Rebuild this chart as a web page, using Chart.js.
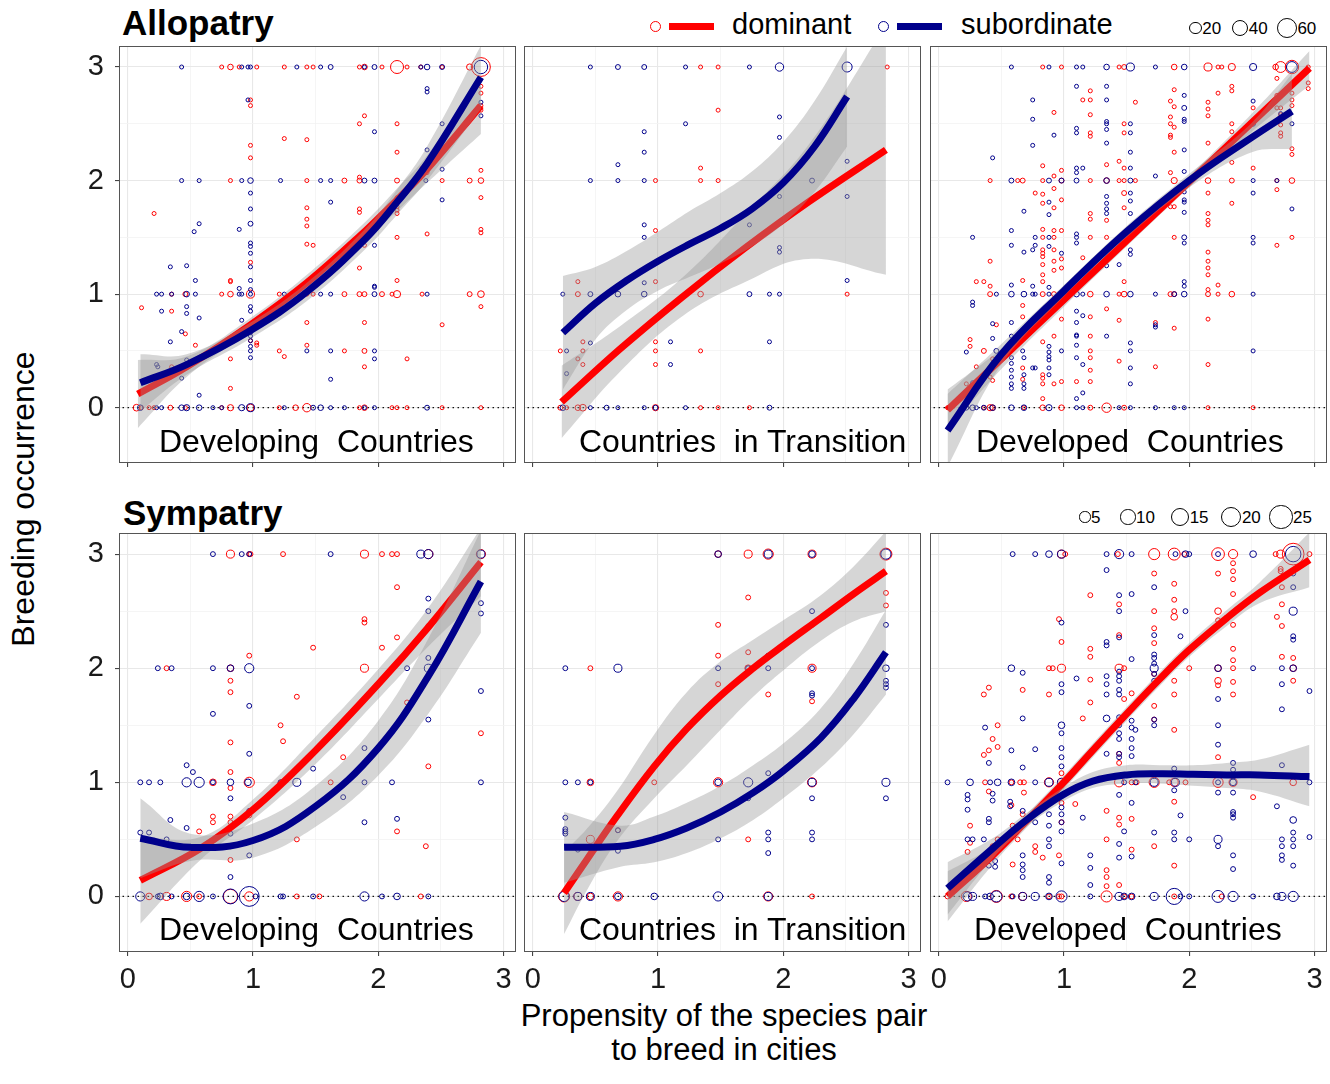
<!DOCTYPE html>
<html>
<head>
<meta charset="utf-8">
<script src="https://cdn.jsdelivr.net/npm/chart.js@4.4.0/dist/chart.umd.min.js"></script>
<style>
  body { margin: 0; width: 1330px; height: 1084px; position: relative; overflow: hidden; background: #fff;
         font-family: "Liberation Sans", Arial, sans-serif; color: #000; }
  canvas { position: absolute; }
  .t { position: absolute; white-space: pre; line-height: 1; }
  .ring { position: absolute; box-sizing: border-box; border-radius: 50%; border: 1px solid #000; }
  .bar { position: absolute; height: 7px; }
</style>
</head>
<body>

<div class="t" style="left:122px;top:5px;font-size:35px;font-weight:bold">Allopatry</div>
<div class="t" style="left:123px;top:495px;font-size:35px;font-weight:bold">Sympatry</div>

<div class="ring" style="left:650px;top:21px;width:11px;height:11px;border-color:#ff0000"></div>
<div class="bar" style="left:669px;top:23px;width:45px;background:#ff0000"></div>
<div class="t" style="left:732px;top:10px;font-size:29px">dominant</div>
<div class="ring" style="left:878px;top:21px;width:11px;height:11px;border-color:#00008b"></div>
<div class="bar" style="left:897px;top:23px;width:45px;background:#00008b"></div>
<div class="t" style="left:961px;top:10px;font-size:29px">subordinate</div>

<div id="sizeTop"></div>
<div id="sizeBot"></div>

<div class="t" style="left:22.6px;top:499px;font-size:32px;transform:translate(-50%,-50%) rotate(-90deg)">Breeding occurrence</div>
<div class="t" style="left:724px;top:1000px;font-size:31px;transform:translateX(-50%)">Propensity of the species pair</div>
<div class="t" style="left:724px;top:1034px;font-size:31px;transform:translateX(-50%)">to breed in cities</div>

<script>
// ---- axis ticks ----
const tickVals = [0, 0.5, 1, 1.5, 2, 2.5, 3];
const tickLabels = ['0', '', '1', '', '2', '', '3'];

// ---- size legends (number of cases) ----
const sizeKeysTop = [20, 40, 60];
const sizeKeysBot = [5, 10, 15, 20, 25];

// ---- panel labels ----
const regions = ['Developing  Countries', 'Countries  in Transition', 'Developed  Countries'];

// ---- points: [propensity, occurrence, n] ----
// Allopatry, developing countries
const aDevDom = [[0.75,3,1],[0.82,3,3],[0.89,3,1],[1.03,3,1],[1.25,3,1],[1.43,3,1],[1.48,3,1],[1.85,3,1],[1.89,3,3],[2.03,3,1],[2.15,3,26],[2.23,3,1],[2.34,3,1],[2.51,3,1],[2.73,3,4],[2.82,3,60],
  [2.82,2.83,1],[2.82,2.77,1],[2.82,2.66,1],[2.82,2.62,1],[2.82,2.09,1],[2.82,2,3],[2.73,2,2],[2.82,1.85,1],[2.82,1.57,1],[2.82,1.54,1],[2.82,1,5],[2.73,1,2],[2.82,0.89,1],[2.82,0,1],
  [2.51,2,1],[2.51,0.73,1],[2.51,0,1],[2.39,2.07,1],[2.35,2.11,1],[2.39,1.53,1],[2.35,1,1],[2.23,0.43,1],[2.23,0,1],
  [2.15,2.5,1],[2.15,2.25,1],[2.15,2,2],[2.15,1.85,1],[2.15,1.77,1],[2.15,1.74,1],[2.15,1.71,1],[2.15,1.5,1],[2.15,1.12,1],[2.15,1,6],[2.11,1,1],[2.15,0,1],[2.11,0,1],
  [1.89,2.57,1],[1.85,2.5,1],[1.85,2.03,1],[1.85,2,2],[1.85,1.75,1],[1.85,1.72,1],[1.89,1.43,1],[1.85,1.23,1],[1.85,1,2],[1.89,1,2],[1.89,0.75,1],[1.89,0.36,1],[1.89,0.5,2],[2.03,1,2],[1.85,0,1],[1.89,0,3],
  [1.73,2,2],[1.73,1,2],[1.73,0.5,1],
  [1.43,2.36,1],[1.43,2,1],[1.43,1.76,1],[1.43,1.66,1],[1.43,1.6,1],[1.43,1.44,1],[1.48,1.43,1],[1.43,1,1],[1.48,1,1],[1.43,0.75,1],[1.43,0.55,1],[1.43,0,9],
  [1.25,2.37,1],[1.21,1,1],[1.21,0.5,1],[1.25,0.45,1],[1.21,0,1],[1.34,0,3],
  [0.98,2.31,1],[0.98,2.2,1],[0.98,2.71,1],[0.98,2.66,1],[0.98,1.28,1],[0.98,1,8],[0.98,0.59,1],[1.03,0.57,1],[1.03,0.55,1],[0.98,0,6],
  [0.82,2,1],[0.82,1,3],[0.82,0.43,1],[0.82,0.17,1],[0.82,1.12,1],[0.82,1.11,1],[0.82,0,4],[0.75,1,1],[0.75,0,1],
  [0.54,0.55,1],[0.46,0.65,1],[0.46,1,2],[0.35,1,1],[0.35,0.85,1],[0.35,0.36,1],[0.21,1.71,1],[0.11,0.88,1],[0.21,0,1],[0.17,0,1],[0.07,0,5],[0.11,0,1],[0.34,0,2],[0.46,0,1]];
const aDevSub = [[0.43,3,1],[0.91,3,1],[0.96,3,1],[0.98,3,1],[1.35,3,1],[1.54,3,1],[1.62,3,2],[1.89,3,1],[1.97,3,2],[2.34,3,1],[2.39,3,3],[2.51,3,2],[2.82,3,28],
  [2.39,2.81,1],[2.39,2.78,1],[2.82,2.69,1],[2.82,2.57,1],[2.51,2.5,1],[1.97,2.43,1],[2.39,2.27,1],[2.51,2.1,1],[2.38,2,1],[2.51,1.83,1],
  [0.43,2,1],[0.57,2,1],[0.91,2,1],[0.98,2,3],[1.22,2,1],[1.54,2,1],[1.62,2,1],[1.89,2,2],[1.97,2,2],
  [1.62,1.81,1],[0.96,2.71,1],[0.98,1.89,1],[0.98,1.75,1],[0.98,1.62,2],[0.57,1.62,1],[0.53,1.55,1],[0.89,1.57,1],[0.98,1.45,1],[0.98,1.42,1],[0.98,1.36,1],[0.98,1.24,1],[0.98,1.12,1],
  [0.34,1.24,1],[0.47,1.25,1],[0.54,1.12,1],
  [0.23,1,1],[0.27,1,1],[0.35,1,1],[0.47,1,3],[0.54,1,1],[0.89,1,1],[0.91,1,1],[0.98,1,1],[1.25,1,1],[1.54,1,1],[1.62,1,1],[1.97,1,2],[2.39,1,1],
  [0.27,0.85,1],[0.47,0.89,1],[0.47,0.83,1],[0.57,0.79,1],[0.91,0.77,1],[0.89,1.05,1],[0.98,1.04,1],[0.98,0.89,1],[0.98,0.85,1],[1.97,1.07,1],[1.97,1.06,1],[1.97,1.43,1],
  [0.43,0.67,1],[0.34,0.58,1],[0.47,0.42,1],[0.23,0.38,1],[0.24,0.36,1],[0.43,0.26,1],[0.34,0.27,1],[0.57,0.11,1],
  [0.98,0.66,1],[0.98,0.63,1],[0.98,0.59,1],[0.98,0.54,1],[0.98,0.5,1],[0.98,0.44,1],
  [1.43,0.5,1],[1.62,0.5,1],[1.97,0.5,1],[1.97,0.43,1],[1.62,0.25,1],
  [0.1,0,3],[0.27,0,1],[0.23,0,1],[0.43,0,3],[0.47,0,4],[0.57,0,3],[0.68,0,1],[0.75,0,1],[0.91,0,4],[0.98,0,8],[1.25,0,1],[1.48,0,2],[1.54,0,3],[1.62,0,1],[1.73,0,1],[1.89,0,1],[1.97,0,1],[2.39,0,2]];

// Allopatry, countries in transition
const aTraDom = [[1.34,3,1],[1.48,3,1],[2.83,3,1],[1.48,2.62,1],[1.34,2.11,1],[1.34,2,1],[1.48,2,1],[0.98,2,1],[0.98,1.56,1],[0.36,1.11,1],[0.98,1.11,1],[0.36,1,2],[1.34,1,3],[2.51,1,1],
  [0.4,0.58,1],[0.98,0.58,1],[0.22,0.5,1],[0.4,0.5,1],[0.36,0.43,1],[0.4,0.38,1],[0.98,0.5,1],[0.98,0.38,1],[1.34,0.5,1],
  [0.22,0,2],[0.27,0,1],[0.36,0,3],[0.4,0,5],[0.98,0,4],[1.34,0,1],[1.48,0,1],[1.73,0,1]];
const aTraSub = [[0.46,3,1],[0.68,3,2],[0.89,3,2],[1.22,3,1],[1.73,3,1],[1.97,3,9],[2.51,3,14],
  [1.22,2.5,1],[1.97,2.56,1],[1.97,2.38,1],[0.89,2.43,1],[0.89,2.25,1],[0.68,2.14,1],[0.46,2,1],[0.68,2,1],[0.89,2,1],[2.23,2,2],[2.51,2.17,1],[2.51,1.86,1],[1.97,1.86,1],
  [0.89,1.61,1],[0.89,1.5,1],[1.73,1.61,1],[1.97,1.41,1],[1.97,1.37,1],[0.89,1.1,1],[2.51,1.12,1],
  [0.24,1,1],[0.46,1,2],[0.68,1,3],[0.89,1,3],[1.22,1,1],[1.73,1,2],[1.89,1,1],[1.97,1,1],
  [0.46,0.57,1],[1.1,0.58,1],[1.89,0.58,1],[0.27,0.5,1],[0.68,0.5,1],[1.1,0.38,1],[0.27,0.3,1],
  [0.24,0,3],[0.46,0,1],[0.59,0,2],[0.68,0,1],[0.89,0,1],[0.98,0,2],[1.22,0,1],[1.89,0,2]];

// Allopatry, developed countries
const aDvdDom = [[0.83,3,1],[0.98,3,1],[1.44,3,1],[1.48,3,2],[1.88,3,3],[2.15,3,8],[2.23,3,1],[2.26,3,1],[2.34,3,6],[2.69,3,3],[2.73,3,17],[2.82,3,28],[2.95,3,1],
  [2.95,2.86,1],[2.95,2.81,1],[2.7,2.9,1],[2.7,2.75,1],[2.82,2.77,1],[2.82,2.71,1],[2.82,2.66,1],[2.73,2.64,1],[2.73,2.58,1],[2.7,2.64,1],[2.73,2.49,1],[2.73,2.42,1],[2.73,2.39,1],[2.82,2.28,1],[2.82,2.23,1],
  [2.34,2.83,1],[2.34,2.79,1],[2.23,2.77,1],[2.15,2.69,1],[2.15,2.63,1],[2.15,2.57,1],[2.15,2.33,1],[2.34,2.5,1],[2.34,2.43,1],[2.34,2.16,1],[2.34,2,2],[2.51,2.64,1],[2.51,2.11,1],[2.7,2,1],[2.82,2,3],[2.7,1.92,1],
  [2.15,2,3],[2.15,1.89,1],[2.15,1.71,1],[2.15,1.65,1],[2.15,1.61,1],[2.34,1.8,1],[2.82,1.5,1],[2.7,1.43,1],[2.15,1.37,1],[2.15,1.29,1],[2.15,1.23,1],[2.15,1.17,1],[2.15,1.04,1],[2.23,1.08,1],[2.15,1,2],[2.23,1,1],[2.34,1,3],[2.15,0.78,1],[2.15,0.38,1],
  [1.88,2.8,1],[1.88,2.65,1],[1.85,2.7,1],[1.85,2.56,1],[1.85,2.5,1],[1.88,2.47,1],[1.85,2.4,1],[1.85,2.38,1],[1.88,2.25,1],[1.85,2.07,1],[1.88,2,4],[1.88,1.77,1],[1.85,1.77,1],[1.88,1.5,1],[1.85,1,2],[1.88,1,2],[1.88,0.7,1],[1.73,0.75,1],[1.73,0.36,1],
  [1.57,2.69,1],[1.48,2.5,1],[1.48,2.42,1],[1.44,2.17,1],[1.48,2.11,1],[1.44,2,1],[1.48,2,1],[1.57,2,1],[1.48,1.89,2],[1.48,1.76,1],[1.48,1.54,1],[1.48,1.11,1],[1.44,1,1],[1.48,1,3],[1.44,0.77,1],[1.44,0.41,1],
  [1.34,2.14,1],[1.34,2,3],[1.34,1.65,1],[1.34,1.5,1],[1.34,0.87,1],
  [1.21,2.79,1],[1.15,2.71,1],[1.21,2.71,1],[1.21,2.58,1],[1.21,2.42,1],[1.21,2.39,1],[1.21,2,1],[1.21,1.71,1],[1.21,1.66,1],[1.21,1.5,1],[1.15,1.32,1],[1.21,1,3],[1.21,0.8,1],[1.21,0.63,1],[1.21,0.5,1],[1.21,0.44,1],[1.21,0.33,1],[1.21,0.23,1],[1.1,0.23,1],
  [0.98,2.09,1],[0.98,2,2],[0.98,1.83,1],[0.98,1.56,1],[0.98,1.31,1],[0.98,1.23,1],[0.98,1,4],[0.98,0.78,1],[0.98,0.23,1],
  [0.92,2.6,1],[0.92,2.04,1],[0.92,1.93,1],[0.92,1.76,1],[0.92,1.56,1],[0.92,1.5,1],[0.92,1.39,1],[0.92,1.29,1],[0.92,1.21,1],[0.92,1,2],[0.92,0.63,1],[0.92,0.21,1],
  [0.83,2.13,1],[0.83,2,1],[0.83,1.88,1],[0.83,1.8,1],[0.83,1.57,1],[0.83,1.5,1],[0.83,1.39,1],[0.83,1.36,1],[0.83,1.33,1],[0.83,1.26,1],[0.83,1.17,1],[0.83,1.11,1],[0.83,1,2],[0.83,0.85,1],[0.83,0.58,1],[0.83,0.29,1],[0.83,0.26,1],[0.83,0.21,1],[0.83,0.08,1],
  [0.77,1.89,1],[0.67,2,2],[0.63,2,1],[0.67,1.12,1],[0.67,0.9,1],[0.67,0.8,1],[0.67,0.63,1],[0.67,0.35,1],[0.67,0.25,1],
  [0.46,0.73,1],[0.41,1.29,1],[0.41,1,2],[0.36,1.11,1],[0.41,1.07,1],[0.3,1.11,1],[0.41,2,1],[0.36,0.5,2],[0.43,0.43,1],[0.43,0.38,1],[0.41,0.27,1],[0.43,0.24,1],[0.25,0.6,1],[0.25,0.54,1],[0.3,0.36,1],[0.22,0.21,1],
  [0.07,0,1],[0.36,0,1],[0.41,0,4],[0.43,0,3],[0.68,0,1],[0.83,0,3],[0.98,0,3],[1.21,0,2],[1.34,0,12],[1.48,0,2],[2.15,0,1],[2.51,0,1]];
const aDvdSub = [[0.58,3,1],[0.88,3,1],[1.1,3,1],[1.15,3,1],[1.34,3,3],[1.53,3,8],[1.73,3,1],[1.96,3,3],[2.51,3,6],[2.82,3,17],
  [1.1,2.83,1],[1.34,2.83,1],[0.75,2.71,1],[1.34,2.71,1],[1.96,2.75,1],[1.96,2.64,2],[0.75,2.54,1],[1.96,2.54,1],[1.96,2.52,1],[1.34,2.52,1],[1.34,2.5,1],[1.53,2.5,1],[1.1,2.46,1],[1.1,2.42,1],[1.34,2.45,1],[1.53,2.42,1],[0.92,2.4,1],[2.51,2.7,1],[2.51,2.5,2],[2.82,2.5,1],[2.73,2.59,1],
  [0.75,2.31,1],[1.34,2.33,1],[1.53,2.25,1],[1.96,2.27,1],[0.43,2.2,1],[1.15,2.11,1],[1.1,2.11,1],[1.1,2.07,1],[1.53,2.11,1],[1.73,2.04,1],
  [0.58,2,2],[0.88,2,2],[0.98,2,2],[1.1,2,2],[1.34,2,3],[1.53,2,2],[2.51,2,1],[2.7,2,1],
  [1.96,2.08,1],[1.96,1.9,1],[1.96,1.83,1],[1.96,1.81,1],[1.96,1.72,1],[1.34,1.86,1],[1.34,1.8,1],[1.34,1.75,1],[1.34,1.71,1],[1.53,1.89,1],[1.53,1.82,1],[1.53,1.71,1],[2.51,1.89,1],[2.82,1.75,1],[0.88,1.81,1],[0.88,1.7,1],[0.68,1.73,1],
  [0.27,1.5,1],[0.58,1.56,1],[0.58,1.43,1],[0.68,1.37,1],[0.77,1.5,1],[0.77,1.43,1],[0.88,1.5,1],[0.88,1.42,1],[0.75,1.39,1],[0.98,1.36,1],[1.1,1.53,1],[1.1,1.5,1],[1.1,1.45,1],[1.53,1.39,1],[1.53,1.35,1],[1.34,1.25,1],[1.44,1.26,1],[1.96,1.5,2],[1.96,1.45,1],[2.51,1.5,1],[2.51,1.45,1],[1.96,1.11,1],[1.96,1.07,1],[0.58,1.08,1],[0.75,1.07,1],[0.88,1.06,1],
  [0.46,1,1],[0.58,1,3],[0.68,1,3],[0.75,1,1],[0.77,1,1],[0.88,1,1],[0.98,1,1],[1.1,1,3],[1.15,1,1],[1.34,1,3],[1.53,1,3],[1.73,1,1],[1.88,1,2],[1.96,1,3],[2.51,1,1],
  [0.27,0.93,1],[0.27,0.9,1],[0.22,0.49,1],[0.27,0.22,1],[0.43,0.74,1],[0.43,0.61,1],[0.46,0.5,2],[0.58,0.75,1],[0.58,0.63,1],[0.58,0.44,1],[0.58,0.39,1],[0.58,0.33,1],[0.58,0.27,1],[0.58,0.21,1],[0.58,0.17,1],[0.67,0.5,1],[0.68,0.44,1],[0.68,0.29,1],[0.68,0.21,1],[0.68,0.17,1],[0.75,0.35,1],[0.77,0.35,1],
  [0.88,0.54,1],[0.88,0.49,1],[0.88,0.45,1],[0.88,0.42,1],[0.88,0.35,1],[0.88,0.29,1],[0.98,0.5,1],[1.1,0.85,1],[1.1,0.75,1],[1.1,0.64,1],[1.1,0.63,1],[1.1,0.55,1],[1.1,0.44,1],[1.1,0.08,1],[1.15,0.81,1],[1.15,0.38,1],[1.15,0.13,1],[1.34,0.63,1],[1.53,0.57,1],[1.53,0.5,1],[1.53,0.35,1],[1.53,0.21,1],[1.73,0.73,1],[1.73,0.71,1],[2.51,0.5,1],
  [0.22,0,2],[0.27,0,3],[0.3,0,1],[0.36,0,2],[0.43,0,3],[0.58,0,3],[0.68,0,3],[0.88,0,4],[1.1,0,1],[1.15,0,1],[1.44,0,1],[1.53,0,1],[1.73,0,1],[1.88,0,1],[1.96,0,1]];

// Sympatry, developing countries
const sDevDom = [[0.82,3,3],[0.97,3,1],[0.98,3,1],[1.24,3,1],[1.89,3,3],[2.03,3,1],[2.11,3,1],[2.15,3,1],[2.4,3,4],[2.82,3,4],
  [2.15,2.71,1],[1.89,2.43,1],[1.89,2.4,1],[2.15,2.27,1],[1.48,2.18,1],[2.03,2.18,1],[2.4,2.37,1],[0.31,2,1],[0.82,2,2],[1.89,2,3],[0.97,2.11,1],[0.82,1.89,1],[0.82,1.79,1],[1.35,1.75,1],[2.23,1.7,1],[1.22,1.5,1],[1.24,1.36,1],[0.82,1.35,1],[2.82,1.43,1],[1.72,1.22,1],[2.4,1.14,1],
  [0.82,1.09,1],[0.68,1,2],[0.97,1,5],[1.62,1,1],[1.22,1,1],[0.82,0.95,1],[0.68,0.7,1],[0.68,0.65,1],[0.82,0.7,1],[0.82,0.65,1],[0.97,0.71,1],[0.57,0.57,1],[0.82,0.44,1],[0.82,0.32,1],[1.35,0.5,1],[2.15,0.57,1],[2.38,0.44,1],
  [0.17,0,2],[0.31,0,3],[0.47,0,5],[0.57,0,1],[0.82,0,10],[0.97,0,4],[1.35,0,1],[1.53,0,1],[2.34,0,1]];
const sDevSub = [[0.68,3,1],[0.91,3,1],[0.97,3,1],[1.62,3,1],[2.34,3,3],[2.4,3,4],[2.82,3,3],
  [2.4,2.61,1],[2.4,2.5,1],[2.82,2.57,1],[2.82,2.48,1],[2.4,2.09,1],[2.4,2,3],[2.23,2,1],[0.24,2,1],[0.35,2,1],[0.68,2,1],[0.82,2,2],[0.97,2,4],[2.82,1.8,1],[0.68,1.6,1],[0.97,1.67,1],[2.4,1.55,1],[0.97,1.25,1],[1.89,1.3,1],[1.48,1.12,1],[0.47,1.15,1],[0.52,1.09,1],
  [0.1,1,1],[0.17,1,1],[0.26,1,1],[0.47,1,4],[0.57,1,5],[0.68,1,1],[0.82,1,2],[0.96,1,2],[1.22,1,1],[1.24,1,1],[1.35,1,3],[1.89,1,1],[2.11,1,1],[2.82,1,1],
  [0.82,0.86,1],[1.72,0.87,1],[0.97,0.75,1],[0.34,0.67,1],[1.89,0.65,1],[2.15,0.68,1],[0.1,0.56,1],[0.17,0.56,1],[0.47,0.6,1],[0.31,0.5,1],[0.82,0.55,1],[0.97,0.36,1],[0.82,0.17,1],
  [0.1,0,4],[0.24,0,1],[0.26,0,2],[0.35,0,1],[0.47,0,2],[0.57,0,5],[0.68,0,1],[0.82,0,11],[0.97,0,20],[1.02,0,1],[1.22,0,1],[1.24,0,1],[1.48,0,1],[1.89,0,4],[2.03,0,1],[2.15,0,2],[2.4,0,1]];

// Sympatry, countries in transition
const sTraDom = [[1.48,3,2],[1.72,3,3],[1.88,3,5],[2.23,3,3],[2.82,3,7],
  [1.72,2.62,1],[2.82,2.66,1],[2.82,2.55,1],[1.48,2.38,1],[2.23,2.38,1],[1.48,2.11,1],[1.72,2.14,1],[1.88,2.11,1],[0.46,2,1],[1.72,2,2],[2.23,2,3],[1.48,1.86,1],[1.88,1.77,1],[2.23,1.71,1],
  [0.97,1,1],[1.48,1,4],[2.23,1,4],[0.46,1,2],[0.46,0.5,3],[1.72,0.5,1],[0.68,0.58,1],
  [0.25,0,6],[0.36,0,3],[0.46,0,2],[0.68,0,4],[1.88,0,4],[2.23,0,1]];
const sTraSub = [[1.48,3,2],[1.88,3,3],[2.23,3,2],[2.82,3,5],
  [2.23,2.5,1],[2.82,2.38,1],[1.88,2.11,1],[0.26,2,1],[0.68,2,3],[1.48,2,1],[1.72,2,1],[1.88,2,1],[2.23,2,1],[2.82,2,2],[2.82,1.89,1],[2.82,1.86,1],[2.82,1.83,1],[2.23,1.78,1],[2.23,1.76,1],[1.88,1.08,1],
  [0.26,1,1],[0.36,1,1],[0.46,1,1],[1.48,1,2],[1.72,1,4],[1.88,1,1],[2.23,1,3],[2.82,1,3],[1.72,0.86,1],[2.23,0.86,1],[2.82,0.86,1],
  [0.26,0.69,1],[0.26,0.59,1],[0.26,0.57,1],[0.26,0.55,1],[0.68,0.58,1],[0.68,0.4,1],[0.36,0.41,1],[1.48,0.5,1],[1.88,0.56,1],[1.88,0.5,1],[1.88,0.38,1],[2.23,0.56,1],[2.23,0.5,1],
  [0.25,0,5],[0.36,0,3],[0.46,0,3],[0.68,0,2],[0.97,0,2],[1.48,0,4],[1.88,0,3]];

// Sympatry, developed countries
const sDvdDom = [[0.98,3,3],[1.01,3,1],[1.43,3,1],[1.72,3,6],[1.88,3,7],[1.96,3,1],[2.23,3,8],[2.35,3,4],[2.69,3,1],[2.73,3,3],[2.83,3,24],[2.96,3,1],
  [2.73,2.87,1],[2.73,2.85,1],[2.23,2.83,1],[2.35,2.92,1],[2.35,2.85,1],[2.35,2.78,1],[1.72,2.83,1],[1.88,2.74,1],[1.88,2.6,1],[1.88,2.5,1],[1.88,2.45,2],[2.35,2.65,1],[2.23,2.5,2],[2.23,2.42,1],[2.35,2.38,1],[2.7,2.45,1],[2.74,2.37,1],[2.74,2.56,1],[2.74,2.71,1],
  [1.72,2.5,1],[1.72,2.35,1],[1.72,2.22,1],[1.44,2.29,1],[1.44,2.56,1],[0.98,2.23,1],[0.96,2.43,1],[1.21,2.64,1],[1.21,2.17,1],[1.21,2.1,1],[1.21,1.9,1],[1.21,1.7,1],[1.15,1.56,1],
  [0.98,2,3],[0.88,2,1],[0.91,2,1],[1.44,2,3],[1.48,2,1],[2.0,2,1],[2.23,2,2],[2.35,2,1],[2.83,2,2],[2.83,2.09,1],[2.83,1.89,1],[2.74,2.1,1],[2.35,2.07,1],[2.35,2.17,1],
  [2.23,1.89,2],[2.23,1.85,1],[2.35,1.88,1],[2.35,1.77,1],[1.88,1.89,1],[1.88,1.77,1],[1.72,1.95,1],[1.72,1.67,1],[1.72,1.55,1],[1.88,1.46,1],[1.54,1.78,1],[1.48,1.73,1],[1.44,1.17,1],[1.44,1.25,1],[2.23,1.22,1],
  [0.88,1.77,1],[0.67,1.81,1],[0.36,1.77,1],[0.4,1.83,1],[0.47,1.5,1],[0.43,1.38,1],[0.47,1.31,1],[0.36,1.24,1],[0.4,1.28,1],
  [0.58,1,1],[0.65,1,1],[0.68,1,1],[0.37,1,1],[0.88,1,4],[0.98,1,3],[1.44,1,4],[1.54,1,1],[1.58,1,1],[1.72,1,5],[1.84,1,1],[1.88,1,3],[1.97,1,1],[2.23,1,5],[2.35,1,3],[2.83,1,2],
  [0.98,1.08,1],[0.4,0.92,1],[0.58,0.8,1],[0.68,0.91,1],[0.98,0.82,1],[1.09,0.81,1],[1.34,0.75,1],[1.88,0.83,1],[2.51,0.87,1],[0.25,0.62,1],[0.59,0.62,1],[0.67,0.72,1],[0.47,0.5,1],[0.63,0.5,1],[0.77,0.44,1],[0.77,0.39,1],[0.83,0.34,1],[0.96,0.36,1],[0.98,0.65,1],
  [1.34,0.5,1],[1.44,0.69,1],[1.44,0.63,1],[1.54,0.68,1],[1.54,0.41,1],[1.72,0.44,1],[1.88,0.27,1],[0.59,0.28,1],[0.23,0.39,1],[0.25,0.47,1],[0.37,0.34,1],[0.43,0.44,1],[1.34,0.23,1],[1.34,0.17,1],[1.34,0.09,1],[1.44,0.1,1],
  [0.07,0,1],[0.22,0,5],[0.46,0,7],[0.58,0,1],[0.67,0,3],[0.88,0,1],[0.96,0,1],[0.98,0,1],[1.34,0,6],[1.48,0,1],[1.54,0,1],[1.88,0,1],[2.26,0,1]];
const sDvdSub = [[0.59,3,1],[0.77,3,1],[0.88,3,2],[0.98,3,3],[1.34,3,1],[1.44,3,4],[1.54,3,1],[1.89,3,1],[1.97,3,2],[2.0,3,1],[2.23,3,1],[2.51,3,2],[2.83,3,12],
  [1.34,2.86,1],[1.72,2.71,1],[1.54,2.65,1],[1.44,2.64,1],[1.44,2.5,1],[1.97,2.5,1],[2.83,2.83,1],[2.83,2.71,1],[2.83,2.5,3],[0.98,2.4,1],[1.93,2.28,1],[1.72,2.29,1],[2.83,2.28,1],[2.83,2.25,1],[1.34,2.23,1],[1.34,2.2,1],[1.44,2.27,1],
  [1.72,2.12,1],[1.72,2.09,1],[1.72,2.04,1],[1.54,2.08,1],[1.1,1.91,1],[1.34,1.93,1],[1.34,1.86,1],[1.44,1.97,1],[1.44,1.93,1],[1.44,1.89,1],[1.34,1.77,1],[1.44,1.81,1],[1.44,1.77,1],[1.72,2,3],[1.72,1.95,1],[1.72,1.89,1],[2.23,2,2],[2.51,2,1],[2.74,2,1],[2.83,2,2],[2.74,1.86,1],[2.96,1.8,1],
  [0.98,1.86,1],[0.98,1.79,1],[0.67,1.96,1],[0.58,2,2],[0.67,1.56,1],[0.37,1.48,1],[0.98,1.5,2],[0.98,1.43,1],[0.98,1.3,1],[0.98,1.22,1],[0.98,1.14,1],[0.77,1.29,1],[0.58,1.28,1],[0.67,1.13,1],
  [1.34,1.56,2],[1.34,1.25,1],[1.44,1.57,1],[1.44,1.5,1],[1.44,1.43,1],[1.44,1.38,1],[1.44,1.25,1],[1.44,1.22,1],[1.54,1.54,1],[1.54,1.48,1],[1.54,1.38,1],[1.54,1.3,1],[1.54,1.23,1],[1.57,1.46,1],[1.72,1.55,1],[1.72,1.5,1],[2.23,1.5,1],[2.23,1.33,1],[2.23,1.73,1],[2.74,1.64,1],[2.35,1.17,1],[2.35,1.11,1],[2.35,1.05,1],[2.74,1.15,1],[1.88,1.12,1],[0.4,1.17,1],
  [0.07,1,1],[0.25,1,2],[0.41,1,1],[0.47,1,2],[0.58,1,2],[0.77,1,1],[0.88,1,3],[0.98,1,3],[1.48,1,1],[1.57,1,1],[1.72,1,3],[1.89,1,3],[2.23,1,1],[2.35,1,2],[2.96,1,1],
  [0.23,0.89,1],[0.23,0.85,1],[0.23,0.76,1],[0.43,0.9,1],[0.43,0.84,1],[0.57,0.83,1],[0.57,0.79,1],[0.67,0.75,1],[0.88,0.72,1],[0.98,0.78,1],[0.98,0.72,1],[1.44,0.89,1],[1.54,0.82,1],[1.88,0.93,1],[2.23,0.91,1],[2.35,0.91,1],[1.93,0.71,1],[2.7,0.79,1],[2.35,0.74,1],[2.35,0.72,1],[2.35,0.69,1],
  [0.4,0.68,1],[0.4,0.65,1],[0.77,0.65,1],[0.88,0.62,1],[0.98,0.65,1],[0.98,0.57,1],[1.15,0.69,1],[1.48,0.57,1],[1.72,0.56,1],[1.88,0.56,1],[1.88,0.5,1],[2.0,0.5,1],[2.23,0.5,3],[2.23,0.44,1],[2.74,0.5,1],[2.74,0.44,1],[2.74,0.36,1],[2.74,0.32,1],[2.83,0.67,2],[2.83,0.56,1],[2.83,0.5,1],[2.83,0.44,1],[2.83,0.27,1],[2.96,0.52,1],
  [0.23,0.5,1],[0.27,0.5,1],[0.36,0.5,1],[0.43,0.38,1],[0.45,0.31,1],[0.45,0.26,1],[0.4,0.27,1],[0.67,0.36,1],[0.67,0.28,1],[0.67,0.23,1],[0.67,0.17,1],[0.88,0.5,1],[0.88,0.44,1],[0.88,0.17,1],[0.88,0.12,1],[0.98,0.29,1],[1.21,0.36,1],[1.21,0.25,1],[1.21,0.1,1],[1.44,0.46,1],[1.44,0.34,1],[1.54,0.35,1],[2.35,0.36,1],[2.35,0.24,1],
  [0.23,0,4],[0.27,0,3],[0.37,0,1],[0.41,0,2],[0.46,0,6],[0.59,0,1],[0.67,0,3],[0.77,0,3],[0.88,0,2],[0.98,0,6],[1.21,0,1],[1.44,0,3],[1.48,0,2],[1.54,0,2],[1.72,0,3],[1.88,0,13],[1.93,0,1],[2.0,0,1],[2.23,0,7],[2.35,0,5],[2.51,0,1],[2.7,0,2],[2.74,0,3],[2.83,0,5]];

// ---- smoothed fits with confidence bands ----
const aDevDomX = [0.08, 0.47, 0.98, 1.43, 1.9, 2.15, 2.39, 2.82];
const aDevDomFit = [0.12, 0.36, 0.73, 1.1, 1.56, 1.83, 2.1, 2.66];
const aDevDomLo = [-0.18, 0.27, 0.67, 1.03, 1.48, 1.73, 1.98, 2.41];
const aDevDomHi = [0.42, 0.45, 0.79, 1.17, 1.64, 1.93, 2.22, 2.91];
const aDevSubX = [0.1, 0.47, 0.98, 1.43, 1.9, 2.15, 2.39, 2.82];
const aDevSubFit = [0.22, 0.38, 0.68, 1.02, 1.49, 1.81, 2.15, 2.91];
const aDevSubLo = [-0.03, 0.29, 0.61, 0.94, 1.4, 1.7, 2.0, 2.63];
const aDevSubHi = [0.47, 0.47, 0.75, 1.1, 1.58, 1.92, 2.3, 3.19];

const aTraDomX = [0.23, 0.7, 1.2, 1.7, 2.2, 2.82];
const aTraDomFit = [0.05, 0.52, 0.98, 1.41, 1.81, 2.27];
const aTraDomLo = [-0.27, 0.32, 0.81, 1.11, 1.31, 1.17];
const aTraDomHi = [0.37, 0.72, 1.15, 1.71, 2.31, 3.37];
const aTraSubX = [0.24, 0.5, 0.75, 1.0, 1.25, 1.5, 1.75, 2.0, 2.25, 2.51];
const aTraSubFit = [0.66, 0.92, 1.12, 1.29, 1.44, 1.58, 1.75, 1.98, 2.3, 2.74];
const aTraSubLo = [0.16, 0.6, 0.86, 1.03, 1.15, 1.27, 1.42, 1.62, 1.9, 2.3];
const aTraSubHi = [1.16, 1.24, 1.38, 1.55, 1.73, 1.89, 2.08, 2.34, 2.7, 3.18];

const aDvdDomX = [0.07, 0.5, 1.0, 1.5, 2.0, 2.5, 2.96];
const aDvdDomFit = [-0.02, 0.43, 0.95, 1.47, 1.99, 2.51, 2.99];
const aDvdDomLo = [-0.2, 0.34, 0.89, 1.42, 1.94, 2.43, 2.84];
const aDvdDomHi = [0.16, 0.52, 1.01, 1.52, 2.04, 2.59, 3.14];
const aDvdSubX = [0.07, 0.5, 1.0, 1.5, 2.0, 2.5, 2.82];
const aDvdSubFit = [-0.2, 0.47, 1.03, 1.55, 2.0, 2.38, 2.61];
const aDvdSubLo = [-0.52, 0.38, 0.98, 1.5, 1.94, 2.25, 2.28];
const aDvdSubHi = [0.12, 0.56, 1.08, 1.6, 2.06, 2.51, 2.94];

const sDevDomX = [0.1, 0.58, 1.0, 1.5, 2.0, 2.4, 2.82];
const sDevDomFit = [0.14, 0.42, 0.76, 1.28, 1.86, 2.36, 2.93];
const sDevDomLo = [-0.24, 0.32, 0.67, 1.16, 1.73, 2.19, 2.63];
const sDevDomHi = [0.52, 0.52, 0.85, 1.4, 1.99, 2.53, 3.23];
const sDevSubX = [0.1, 0.5, 1.0, 1.5, 2.0, 2.4, 2.82];
const sDevSubFit = [0.51, 0.43, 0.49, 0.79, 1.3, 1.93, 2.76];
const sDevSubLo = [0.16, 0.31, 0.34, 0.61, 1.06, 1.6, 2.31];
const sDevSubHi = [0.86, 0.55, 0.64, 0.97, 1.54, 2.26, 3.21];

const sTraDomX = [0.25, 0.43, 0.67, 0.97, 1.23, 1.5, 1.76, 2.0, 2.3, 2.56, 2.82];
const sTraDomFit = [0.03, 0.32, 0.7, 1.14, 1.47, 1.76, 2.0, 2.2, 2.44, 2.65, 2.85];
const sTraDomLo = [-0.33, 0.05, 0.48, 0.86, 1.15, 1.46, 1.75, 1.98, 2.24, 2.41, 2.5];
const sTraDomHi = [0.39, 0.59, 0.92, 1.42, 1.79, 2.06, 2.25, 2.42, 2.64, 2.89, 3.2];
const sTraSubX = [0.25, 0.7, 0.97, 1.23, 1.5, 1.76, 2.0, 2.3, 2.56, 2.82];
const sTraSubFit = [0.43, 0.44, 0.5, 0.6, 0.74, 0.91, 1.1, 1.39, 1.73, 2.14];
const sTraSubLo = [0.12, 0.26, 0.3, 0.38, 0.51, 0.67, 0.86, 1.13, 1.42, 1.77];
const sTraSubHi = [0.74, 0.62, 0.7, 0.82, 0.97, 1.15, 1.34, 1.65, 2.04, 2.51];

const sDvdDomX = [0.07, 0.43, 0.7, 0.99, 1.23, 1.5, 1.76, 2.0, 2.3, 2.56, 2.96];
const sDvdDomFit = [0.0, 0.36, 0.66, 0.99, 1.28, 1.6, 1.9, 2.16, 2.44, 2.66, 2.95];
const sDvdDomLo = [-0.22, 0.28, 0.6, 0.93, 1.22, 1.54, 1.84, 2.1, 2.37, 2.57, 2.71];
const sDvdDomHi = [0.22, 0.44, 0.72, 1.05, 1.34, 1.66, 1.96, 2.22, 2.51, 2.75, 3.19];
const sDvdSubX = [0.07, 0.43, 0.7, 0.99, 1.23, 1.5, 1.76, 2.03, 2.3, 2.56, 2.96];
const sDvdSubFit = [0.07, 0.42, 0.67, 0.89, 1.01, 1.065, 1.075, 1.07, 1.065, 1.065, 1.05];
const sDvdSubLo = [-0.16, 0.33, 0.61, 0.83, 0.95, 0.99, 0.99, 0.97, 0.95, 0.92, 0.79];
const sDvdSubHi = [0.3, 0.51, 0.73, 0.95, 1.09, 1.15, 1.15, 1.15, 1.17, 1.2, 1.33];

// ---- look ----
const RED = '#ff0000';
const NAVY = '#00008b';
const BAND = 'rgba(153,153,153,0.4)';
const colLeft = [119, 524, 930];
const rowTop = [46, 533];
const rowH = [417, 419];
const panelW = 397;
const labelLeft = [[159, 579, 976], [159, 579, 974]];
const labelBase = [452, 940];

// circle radius from number of cases (two separate size scales, as in the figure)
const radiusTop = n => 0.9 + 1.1 * Math.sqrt(n);
const radiusBot = n => 0.3 + 2.15 * Math.sqrt(n);

Chart.defaults.font.family = '"Liberation Sans", Arial, sans-serif';
Chart.defaults.color = '#1a1a1a';

const frame = {
  id: 'frame',
  afterDraw(chart) {
    const { ctx, chartArea: a } = chart;
    ctx.save();
    ctx.strokeStyle = '#555';
    ctx.lineWidth = 1;
    ctx.strokeRect(a.left + 0.5, a.top + 0.5, a.width - 1, a.height - 1);
    ctx.restore();
  }
};

const pts = arr => arr.map(([x, y, n]) => ({ x, y, n }));
const curve = (xs, ys) => xs.map((x, i) => ({ x, y: ys[i] }));

function gridOpts(ticks) {
  return {
    color: c => (c.tick && c.tick.value % 1 === 0) ? '#e8e8e8' : '#f3f3f3',
    lineWidth: c => (c.tick && c.tick.value % 1 === 0) ? 1.1 : 0.8,
    drawTicks: ticks,
    tickLength: 4,
    tickColor: c => (c.tick && c.tick.value % 1 === 0) ? '#444' : 'rgba(0,0,0,0)'
  };
}

function drawPanel(row, col, dom, sub, c) {
  const axisW = col === 0 ? colLeft[0] : 0;
  const axisH = row === 1 ? 50 : 6;
  const canvas = document.createElement('canvas');
  canvas.width = axisW + panelW + 1;
  canvas.height = 1 + rowH[row] + axisH;
  canvas.style.left = (colLeft[col] - axisW) + 'px';
  canvas.style.top = (rowTop[row] - 1) + 'px';
  document.body.appendChild(canvas);
  const radius = row === 0 ? radiusTop : radiusBot;
  const smooth = { showLine: true, pointRadius: 0, tension: 0.4, clip: 0 };

  new Chart(canvas, {
    type: 'scatter',
    data: {
      datasets: [
        { data: [{ x: -1, y: 0 }, { x: 4, y: 0 }], showLine: true, borderColor: '#111', borderWidth: 1.3,
          borderDash: [1.5, 3.5], pointRadius: 0, order: 30 },
        { data: pts(dom), borderColor: RED, backgroundColor: 'rgba(0,0,0,0)', pointBorderWidth: 1,
          pointRadius: ctx => radius(ctx.raw.n), order: 29 },
        { data: pts(sub), borderColor: NAVY, backgroundColor: 'rgba(0,0,0,0)', pointBorderWidth: 1,
          pointRadius: ctx => radius(ctx.raw.n), order: 28 },
        { ...smooth, data: curve(c.domX, c.domLo), borderWidth: 0, order: 21 },
        { ...smooth, data: curve(c.domX, c.domHi), borderWidth: 0, fill: { target: 3 }, backgroundColor: BAND, order: 20 },
        { ...smooth, data: curve(c.domX, c.domFit), borderColor: RED, borderWidth: 7, order: 19 },
        { ...smooth, data: curve(c.subX, c.subLo), borderWidth: 0, order: 18 },
        { ...smooth, data: curve(c.subX, c.subHi), borderWidth: 0, fill: { target: 6 }, backgroundColor: BAND, order: 17 },
        { ...smooth, data: curve(c.subX, c.subFit), borderColor: NAVY, borderWidth: 7, order: 16 }
      ]
    },
    options: {
      responsive: false,
      animation: false,
      events: [],
      layout: { autoPadding: false, padding: { top: 1, right: 1, left: 0, bottom: 0 } },
      plugins: { legend: { display: false }, tooltip: { enabled: false } },
      scales: {
        x: {
          type: 'linear', position: 'bottom', min: -0.07, max: 3.1,
          afterBuildTicks: axis => { axis.ticks = tickVals.map(value => ({ value })); },
          afterFit: s => { s.height = axisH; s.paddingLeft = 0; s.paddingRight = 0; s.paddingTop = 0; s.paddingBottom = 0; },
          ticks: { display: row === 1, callback: (v, i) => tickLabels[i], padding: 7, maxRotation: 0, autoSkip: false,
                   font: { size: 29 } },
          grid: gridOpts(true),
          border: { display: false }
        },
        y: {
          type: 'linear', position: 'left', min: -0.487, max: 3.185,
          afterBuildTicks: axis => { axis.ticks = tickVals.map(value => ({ value })); },
          afterFit: s => { s.width = axisW; s.paddingLeft = 0; s.paddingRight = 0; s.paddingTop = 0; s.paddingBottom = 0; },
          ticks: { display: col === 0, callback: (v, i) => tickLabels[i], padding: 11, autoSkip: false,
                   font: { size: 29 } },
          grid: gridOpts(col === 0),
          border: { display: false }
        }
      }
    },
    plugins: [frame]
  });

  const lab = document.createElement('div');
  lab.className = 't';
  lab.style.fontSize = '32px';
  lab.style.left = labelLeft[row][col] + 'px';
  lab.style.top = (labelBase[row] - 0.8465 * 32) + 'px';
  lab.textContent = regions[col];
  document.body.appendChild(lab);
}

drawPanel(0, 0, aDevDom, aDevSub, { domX: aDevDomX, domFit: aDevDomFit, domLo: aDevDomLo, domHi: aDevDomHi, subX: aDevSubX, subFit: aDevSubFit, subLo: aDevSubLo, subHi: aDevSubHi });
drawPanel(0, 1, aTraDom, aTraSub, { domX: aTraDomX, domFit: aTraDomFit, domLo: aTraDomLo, domHi: aTraDomHi, subX: aTraSubX, subFit: aTraSubFit, subLo: aTraSubLo, subHi: aTraSubHi });
drawPanel(0, 2, aDvdDom, aDvdSub, { domX: aDvdDomX, domFit: aDvdDomFit, domLo: aDvdDomLo, domHi: aDvdDomHi, subX: aDvdSubX, subFit: aDvdSubFit, subLo: aDvdSubLo, subHi: aDvdSubHi });
drawPanel(1, 0, sDevDom, sDevSub, { domX: sDevDomX, domFit: sDevDomFit, domLo: sDevDomLo, domHi: sDevDomHi, subX: sDevSubX, subFit: sDevSubFit, subLo: sDevSubLo, subHi: sDevSubHi });
drawPanel(1, 1, sTraDom, sTraSub, { domX: sTraDomX, domFit: sTraDomFit, domLo: sTraDomLo, domHi: sTraDomHi, subX: sTraSubX, subFit: sTraSubFit, subLo: sTraSubLo, subHi: sTraSubHi });
drawPanel(1, 2, sDvdDom, sDvdSub, { domX: sDvdDomX, domFit: sDvdDomFit, domLo: sDvdDomLo, domHi: sDvdDomHi, subX: sDvdSubX, subFit: sDvdSubFit, subLo: sDvdSubLo, subHi: sDvdSubHi });

// size keys
function sizeKey(holderId, keys, radius, centers, cy, textSize) {
  const holder = document.getElementById(holderId);
  keys.forEach((n, i) => {
    const r = radius(n);
    const ring = document.createElement('div');
    ring.className = 'ring';
    ring.style.width = ring.style.height = (2 * r + 1) + 'px';
    ring.style.left = (centers[i] - r - 0.5) + 'px';
    ring.style.top = (cy - r - 0.5) + 'px';
    holder.appendChild(ring);
    const t = document.createElement('div');
    t.className = 't';
    t.style.fontSize = textSize + 'px';
    t.style.left = (centers[i] + r + 1) + 'px';
    t.style.top = (cy + 0.358 * textSize - 0.8465 * textSize) + 'px';
    t.textContent = String(n);
    holder.appendChild(t);
  });
}
sizeKey('sizeTop', sizeKeysTop, radiusTop, [1195.5, 1240, 1287], 28, 17);
sizeKey('sizeBot', sizeKeysBot, radiusBot, [1085, 1128, 1180, 1231, 1281], 517, 17);
</script>
</body>
</html>
